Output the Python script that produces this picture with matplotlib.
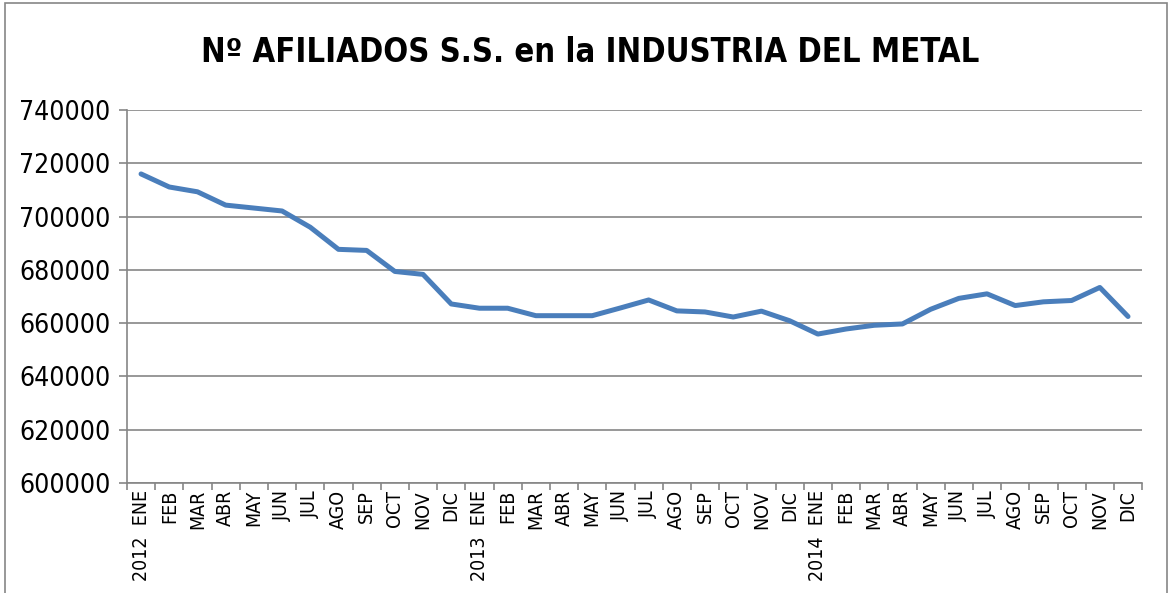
import matplotlib
matplotlib.use('Agg')
import matplotlib.pyplot as plt
from matplotlib.patches import Rectangle

plt.rcParams['font.family'] = ['DejaVu Sans']
plt.rcParams['font.stretch'] = 'condensed'

# Datos: afiliados mensuales 2012-2014
years = ['2012', '2013', '2014']
months = ['ENE', 'FEB', 'MAR', 'ABR', 'MAY', 'JUN',
          'JUL', 'AGO', 'SEP', 'OCT', 'NOV', 'DIC']
afiliados = [716000, 711100, 709300, 704300, 703200, 702100,
             696000, 687700, 687300, 679400, 678300, 667200,
             665600, 665600, 662800, 662800, 662800, 665700,
             668700, 664600, 664200, 662300, 664500, 660900,
             655900, 657800, 659200, 659700, 665200, 669300,
             671000, 666600, 668000, 668500, 673400, 662500]
y_ticks = [600000, 620000, 640000, 660000, 680000, 700000, 720000, 740000]

labels = []
for y in years:
    for m in months:
        labels.append(y + '  ' + m if m == 'ENE' else m)

fig = plt.figure(figsize=(11.69, 5.93), dpi=100)
ax = fig.add_axes([0.1086, 0.1855, 0.8684, 0.629])

grid_col = '#868686'
x = list(range(len(afiliados)))
ax.plot(x, afiliados, color='#4a7ebb', linewidth=3.6, solid_capstyle='round', zorder=3)

ax.set_xlim(-0.5, len(afiliados) - 0.5)
ax.set_ylim(600000, 740000)
ax.set_yticks(y_ticks)
ax.set_yticklabels([str(v) for v in y_ticks], fontsize=19)
ax.yaxis.grid(True, color=grid_col, linewidth=1.2)
ax.set_axisbelow(True)

ax.set_xticks(x)
ax.set_xticklabels(labels, rotation=90, fontsize=14, va='top', ha='center')
ax.tick_params(axis='x', length=0, pad=5)
ax.set_xticks([i - 0.5 for i in range(len(afiliados) + 1)], minor=True)
ax.tick_params(axis='x', which='minor', length=5, color=grid_col, width=1.2)
ax.tick_params(axis='y', length=6, color=grid_col, width=1.2, pad=6)

for s in ['top', 'right']:
    ax.spines[s].set_visible(False)
for s in ['left', 'bottom']:
    ax.spines[s].set_color(grid_col)
    ax.spines[s].set_linewidth(1.2)

fig.text(0.505, 0.912, 'Nº AFILIADOS S.S. en la INDUSTRIA DEL METAL',
         ha='center', va='center', fontsize=23.5, fontweight='bold')

# marco exterior del gráfico
fig.patches.append(Rectangle((0.004, -0.01), 0.994, 1.005, transform=fig.transFigure,
                             fill=False, edgecolor='#868686', linewidth=1.2))

plt.savefig('out.png', dpi=100)
